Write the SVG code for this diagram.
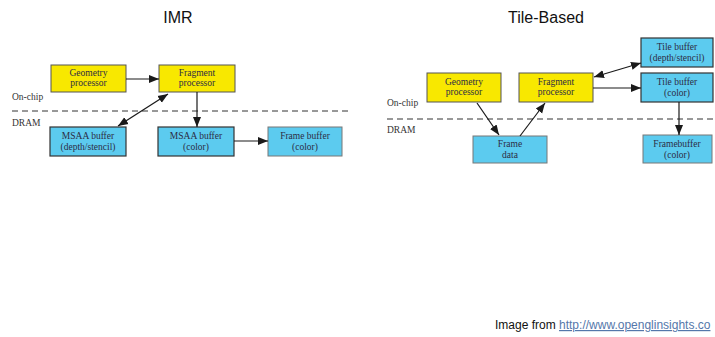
<svg xmlns="http://www.w3.org/2000/svg" width="715" height="337" viewBox="0 0 715 337">
<defs>
<marker id="ah" viewBox="0 0 10 10" refX="10" refY="5" markerWidth="10" markerHeight="10" markerUnits="userSpaceOnUse" orient="auto-start-reverse">
<path d="M0,1 L10,5 L0,9 Z" fill="#1a1a1a"/>
</marker>
<style>
.title{font-family:"Liberation Sans",Arial,sans-serif;font-size:16px;fill:#111;text-anchor:middle}
.lbl{font-family:"Liberation Serif","DejaVu Serif",serif;font-size:9.5px;fill:#2c2c44;text-anchor:middle}
.side{font-family:"Liberation Serif","DejaVu Serif",serif;font-size:9.5px;fill:#333}
.yel{fill:#f8e800;stroke:#555;stroke-width:1}
.blu{fill:#5ccbef;stroke:#333;stroke-width:1.2}
.blu2{fill:#5ccbef;stroke:#777;stroke-width:1}
.dash{stroke:#333;stroke-width:1;stroke-dasharray:6,4;fill:none}
.c{stroke:#1a1a1a;stroke-width:1.2;fill:none}
.foot{font-family:"Liberation Sans",Arial,sans-serif;font-size:12px;fill:#111}
</style>
</defs>
<rect width="715" height="337" fill="#fff"/>

<text class="title" x="178" y="23">IMR</text>
<text class="title" x="546" y="23">Tile-Based</text>

<g id="labels">
<text class="side" x="12" y="100">On-chip</text>
<text class="side" x="12" y="126">DRAM</text>
<text class="side" x="387" y="106">On-chip</text>
<text class="side" x="387" y="133">DRAM</text>
<line class="dash" x1="12" y1="111" x2="352" y2="111"/>
<line class="dash" x1="387" y1="119" x2="715" y2="119"/>
</g>

<g id="imr-geometry"><rect class="yel" x="51" y="65" width="75" height="27"/><text class="lbl" x="88.5" y="76">Geometry</text><text class="lbl" x="88.5" y="86">processor</text></g>
<g id="imr-fragment"><rect class="yel" x="159" y="65" width="76" height="27"/><text class="lbl" x="197" y="76">Fragment</text><text class="lbl" x="197" y="86">processor</text></g>
<g id="imr-msaa-ds"><rect class="blu" x="50" y="127" width="76" height="29"/><text class="lbl" x="88" y="139">MSAA buffer</text><text class="lbl" x="88" y="150">(depth/stencil)</text></g>
<g id="imr-msaa-color"><rect class="blu" x="158" y="127" width="76" height="29"/><text class="lbl" x="196" y="139">MSAA buffer</text><text class="lbl" x="196" y="150">(color)</text></g>
<g id="imr-framebuffer"><rect class="blu2" x="268" y="127" width="74" height="29"/><text class="lbl" x="305" y="139">Frame buffer</text><text class="lbl" x="305" y="150">(color)</text></g>

<g id="tb-geometry"><rect class="yel" x="427" y="73" width="74" height="29"/><text class="lbl" x="464" y="85">Geometry</text><text class="lbl" x="464" y="95">processor</text></g>
<g id="tb-fragment"><rect class="yel" x="519" y="73" width="74" height="29"/><text class="lbl" x="556" y="85">Fragment</text><text class="lbl" x="556" y="95">processor</text></g>
<g id="tb-framedata"><rect class="blu2" x="473" y="136" width="74" height="27"/><text class="lbl" x="510" y="147">Frame</text><text class="lbl" x="510" y="158">data</text></g>
<g id="tb-tile-ds"><rect class="blu" x="641" y="38" width="72" height="29"/><text class="lbl" x="677" y="50">Tile buffer</text><text class="lbl" x="677" y="61">(depth/stencil)</text></g>
<g id="tb-tile-color"><rect class="blu" x="641" y="73" width="72" height="29"/><text class="lbl" x="677" y="85">Tile buffer</text><text class="lbl" x="677" y="96">(color)</text></g>
<g id="tb-framebuffer"><rect class="blu2" x="643" y="135" width="69" height="28"/><text class="lbl" x="677" y="147">Framebuffer</text><text class="lbl" x="677" y="158">(color)</text></g>

<g id="connectors">
<line class="c" x1="126" y1="79" x2="159" y2="79" marker-end="url(#ah)"/>
<line class="c" x1="197" y1="92" x2="197" y2="127" marker-end="url(#ah)"/>
<line class="c" x1="118" y1="126" x2="168" y2="94" marker-start="url(#ah)" marker-end="url(#ah)"/>
<line class="c" x1="234" y1="141" x2="268" y2="141" marker-end="url(#ah)"/>
<line class="c" x1="477" y1="103" x2="499" y2="135" marker-end="url(#ah)"/>
<line class="c" x1="520" y1="136" x2="545" y2="103" marker-end="url(#ah)"/>
<line class="c" x1="594" y1="77" x2="641" y2="63" marker-start="url(#ah)" marker-end="url(#ah)"/>
<line class="c" x1="593" y1="88" x2="641" y2="88" marker-end="url(#ah)"/>
<line class="c" x1="679" y1="102" x2="679" y2="135" marker-end="url(#ah)"/>
</g>

<text class="foot" x="495" y="329">Image from <tspan fill="#5577aa" text-decoration="underline">http://www.openglinsights.co</tspan></text>
</svg>
